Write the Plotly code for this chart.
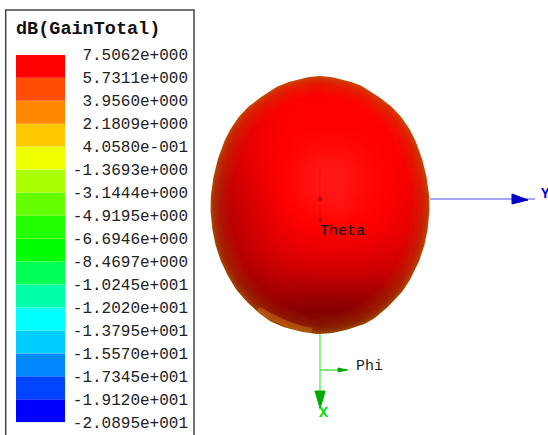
import numpy as np
import plotly.graph_objects as go

# ---- gain scale (legend) ----
scale_labels = ["-2.0895e+001", "-1.9120e+001", "-1.7345e+001", "-1.5570e+001", "-1.3795e+001",
                "-1.2020e+001", "-1.0245e+001", "-8.4697e+000", "-6.6946e+000", "-4.9195e+000",
                "-3.1444e+000", "-1.3693e+000", "4.0580e-001", "2.1809e+000", "3.9560e+000",
                "5.7311e+000", "7.5062e+000"]
scale_colors = ["#0000ff", "#0044ff", "#0088ff", "#00ccff", "#00ffff", "#00ffaa", "#00ff55", "#00ff00",
                "#22ff00", "#66ff00", "#aaff00", "#eeff00", "#ffc800", "#ff8800", "#ff4c00", "#ff0000"]
scale_title = "dB(GainTotal)"

# ---- pattern silhouette (origin at the axes crossing) ----
outline_x = [0, 34, 53, 75, 90, 99, 105, 108.5, 109.5, 107.5, 103, 95, 81, 56, 33, 0,
             -33, -56, -81, -95, -103, -107.5, -109.5, -108.5, -105, -99, -90, -75, -53, -34]
outline_y = [-123, -116, -106, -89, -69, -49, -29, -9, 9, 31, 51, 71, 94, 118, 129, 135,
             129, 118, 94, 71, 51, 31, 9, -9, -29, -49, -69, -89, -106, -116]

# ---- shading of the pattern (-1 glow, 0 red, 1 dark red) ----
shade_x = [-120, -100, -80, -60, -40, -20, 0, 20, 40, 60, 80, 100, 120]
shade_y = [-130, -110, -90, -70, -50, -30, -10, 10, 30, 50, 70, 90, 110, 130, 150]
shade = [
    [.2, .2, .2, .2, .2, .2, .2, .2, .2, .2, .2, .2, .2],
    [.2, .2, .2, .2, .1, .05, .05, .05, .05, .1, .2, .2, .2],
    [.3, .3, .25, .15, .05, 0, 0, 0, 0, .05, .1, .15, .2],
    [.45, .45, .3, .12, .03, 0, 0, 0, 0, 0, .05, .1, .2],
    [.55, .5, .3, .12, .03, -.1, -.2, -.2, -.1, 0, .05, .15, .25],
    [.6, .55, .35, .15, 0, -.2, -.4, -.4, -.2, -.05, .05, .15, .3],
    [.65, .6, .42, .2, .03, -.2, -.4, -.4, -.2, -.05, .08, .2, .35],
    [.7, .65, .5, .3, .1, -.1, -.2, -.3, -.1, 0, .12, .28, .4],
    [.75, .7, .55, .35, .17, .08, .03, .03, .03, .08, .18, .35, .5],
    [.85, .75, .6, .45, .3, .22, .18, .18, .2, .25, .32, .45, .55],
    [.9, .82, .7, .6, .5, .45, .42, .42, .42, .45, .5, .55, .65],
    [.9, .9, .85, .78, .72, .72, .72, .72, .72, .72, .72, .72, .75],
    [.9, .9, .9, .9, .9, .95, .95, .95, .9, .85, .8, .8, .8],
    [.9, .9, .9, .9, .95, 1, 1, 1, .95, .85, .8, .8, .8],
    [.9, .9, .9, .9, .95, 1, 1, 1, .95, .85, .8, .8, .8],
]

# lighter patch on the lower-left rim
patch_x = [-62, -48, -30, -8]
patch_y = [110, 118, 126, 132]

# centre marks of the Theta arrow
theta_dot_x = [0, 0]
theta_dot_y = [0, 21]

# ---- axes triad ----
y_axis_x = [110, 215]
y_axis_y = [0, 0]
y_head_x = [192, 192, 208, 192]
y_head_y = [-5, 5, 1, -5]
x_axis_x = [0, 0]
x_axis_y = [135, 211]
x_head_x = [-5, 5, 3, 0, -5]
x_head_y = [192, 192, 200, 209, 192]
phi_x = [0, 28]
phi_y = [171, 171]
phi_head_x = [18, 18, 27, 18]
phi_head_y = [169, 173, 171, 169]
theta_mark_x = [0, 0]
theta_mark_y = [-30, 22]

W, H = 548, 435
OX, OY = 320, 199


def smooth_closed(xs, ys, n=10):
    p = np.column_stack([xs, ys])
    out = []
    for i in range(len(p)):
        a, b, c, d = p[i - 1], p[i], p[(i + 1) % len(p)], p[(i + 2) % len(p)]
        for t in np.linspace(0, 1, n, endpoint=False):
            out.append(0.5 * (2 * b + (c - a) * t + (2 * a - 5 * b + 4 * c - d) * t ** 2
                              + (3 * b - a - 3 * c + d) * t ** 3))
    out.append(out[0])
    out = np.array(out)
    return out[:, 0], out[:, 1]


ex, ey = smooth_closed(outline_x, outline_y)

fig = go.Figure()

# shaded pattern
fig.add_trace(go.Heatmap(x=shade_x, y=shade_y, z=shade, zmin=-1, zmax=1, zsmooth="best", showscale=False,
                         hoverinfo="skip",
                         colorscale=[[0, "#ff3a30"], [0.5, "#ff0000"], [0.75, "#c80000"], [1, "#800000"]]))
# soft rim of lower gain
for w, a in [(36, .04), (32, .04), (28, .04), (24, .04), (20, .045), (16, .05), (12, .07), (8, .1), (5, .14), (2, .2)]:
    fig.add_trace(go.Scatter(x=ex, y=ey, mode="lines", hoverinfo="skip",
                             line=dict(color=f"rgba(170,135,0,{a})", width=w)))
fig.add_trace(go.Scatter(x=patch_x, y=patch_y, mode="lines", hoverinfo="skip",
                         line=dict(color="rgba(225,130,30,0.4)", width=6, shape="spline")))
# centre marks
fig.add_trace(go.Scatter(x=theta_mark_x, y=theta_mark_y, mode="lines", hoverinfo="skip",
                         line=dict(color="rgba(170,0,0,0.22)", width=1)))
fig.add_trace(go.Scatter(x=theta_dot_x, y=theta_dot_y, mode="markers", hoverinfo="skip",
                         marker=dict(color="rgba(120,0,0,0.6)", size=4)))
# white surround trimming the pattern to its silhouette
mx, my = -135, -145
mask_x = [mx, -mx, -mx, mx, mx, None] + list(ex[::-1])
mask_y = [my, my, 168, 168, my, None] + list(ey[::-1])
fig.add_trace(go.Scatter(x=mask_x, y=mask_y, mode="lines", fill="toself", fillcolor="white",
                         line=dict(width=0), hoverinfo="skip"))

# triad
fig.add_trace(go.Scatter(x=y_axis_x, y=y_axis_y, mode="lines", line=dict(color="#5050f0", width=1.2), hoverinfo="skip"))
fig.add_trace(go.Scatter(x=y_head_x, y=y_head_y, mode="lines", fill="toself", fillcolor="#0000c8",
                         line=dict(color="#0000c8", width=1), hoverinfo="skip"))
fig.add_trace(go.Scatter(x=x_axis_x, y=x_axis_y, mode="lines", line=dict(color="#40f040", width=1.2), hoverinfo="skip"))
fig.add_trace(go.Scatter(x=x_head_x, y=x_head_y, mode="lines", fill="toself", fillcolor="#00a800",
                         line=dict(color="#00a800", width=1), hoverinfo="skip"))
fig.add_trace(go.Scatter(x=phi_x, y=phi_y, mode="lines", line=dict(color="#30d030", width=1.2), hoverinfo="skip"))
fig.add_trace(go.Scatter(x=phi_head_x, y=phi_head_y, mode="lines", fill="toself", fillcolor="#00a800",
                         line=dict(color="#00a800", width=1), hoverinfo="skip"))

# legend colour cells, on the gain-level axis
n = len(scale_colors)
fig.add_trace(go.Bar(x=[0.5] * n, y=[1] * n, base=list(range(n)), width=1, xaxis="x2", yaxis="y2",
                     marker=dict(color=scale_colors, line=dict(width=0)), hoverinfo="skip"))

MONO = "Liberation Mono, DejaVu Sans Mono, monospace"


def label(x, y, text, size, color="#222222", bold=False):
    fig.add_annotation(x=x, y=y, text=f"<b>{text}</b>" if bold else text, showarrow=False, xanchor="left",
                       yanchor="middle", font=dict(family=MONO, size=size, color=color))


label(-2, 32, "Theta", 15, "#111111")
label(34, 167, "Phi", 15, "#222222")
label(218.5, -5, "Y", 14, "#0000e0", bold=True)
label(-3, 214, "X", 15, "#00e000", bold=True)
label(-306, -170, scale_title, 18.5, "#111111", bold=True)

fig.update_layout(
    width=W, height=H, autosize=False, margin=dict(l=0, r=0, t=0, b=0), showlegend=False,
    paper_bgcolor="white", plot_bgcolor="rgba(0,0,0,0)", barmode="overlay",
    xaxis=dict(range=[-OX, W - OX], domain=[0, 1], visible=False, fixedrange=True),
    yaxis=dict(range=[H - OY, -OY], domain=[0, 1], visible=False, fixedrange=True),
    xaxis2=dict(range=[0, 1], domain=[16 / W, 65 / W], anchor="y2", visible=False, fixedrange=True),
    yaxis2=dict(range=[0, n], domain=[(H - 422.3) / H, (H - 54.7) / H], anchor="free", overlaying=None,
                position=188 / W, side="left", tickmode="array", tickvals=list(range(n + 1)),
                ticktext=scale_labels, ticks="", showgrid=False, zeroline=False, showline=False,
                tickfont=dict(family=MONO, size=16, color="#222222"), automargin=False, fixedrange=True),
    shapes=[dict(type="rect", xref="paper", yref="paper", x0=5.7 / W, x1=194 / W, y0=-0.05, y1=(H - 10) / H,
                 line=dict(color="#444444", width=1.5), fillcolor="rgba(0,0,0,0)", layer="above")],
)

fig.write_html("out.html", config={"displayModeBar": False},
               post_script="document.body.style.margin='0';document.documentElement.style.overflow='hidden';")
